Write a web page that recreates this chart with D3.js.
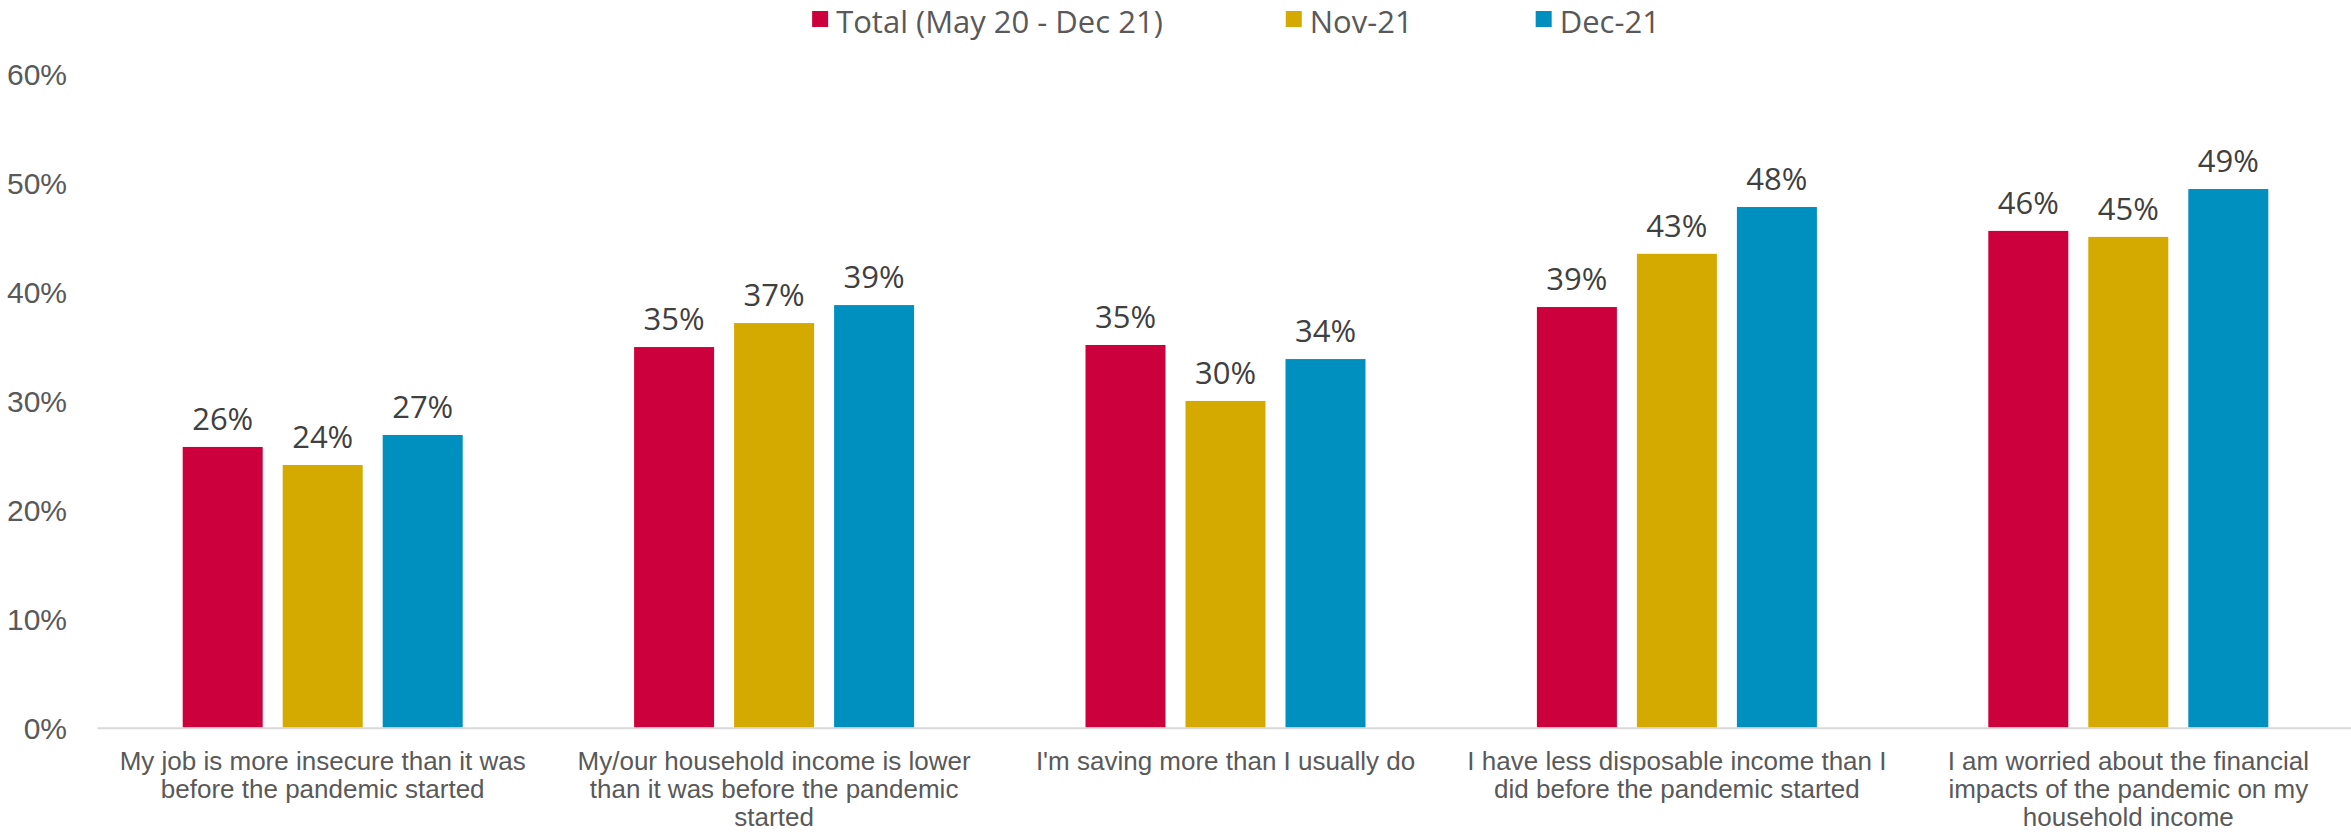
<!DOCTYPE html>
<html>
<head>
<meta charset="utf-8">
<script src="https://cdn.jsdelivr.net/npm/d3@7"></script>
<style>
  html, body { margin: 0; padding: 0; background: #fff; }
  svg { display: block; font-family: "Century Gothic", "Open Sans", sans-serif; }
</style>
</head>
<body>
<div id="chart"></div>
<script>
// Financial attitudes by period - grouped bars

const categories = [
  ['My job is more insecure than it was', 'before the pandemic started'],
  ['My/our household income is lower', 'than it was before the pandemic', 'started'],
  ["I'm saving more than I usually do"],
  ['I have less disposable income than I', 'did before the pandemic started'],
  ['I am worried about the financial', 'impacts of the pandemic on my', 'household income']
];
const seriesNames = ['Total (May 20 - Dec 21)', 'Nov-21', 'Dec-21'];
const totalValues = [0.2574, 0.3490, 0.3509, 0.3857, 0.4555];
const nov21Values = [0.2409, 0.3710, 0.2996, 0.4345, 0.4500];
const dec21Values = [0.2684, 0.3875, 0.3380, 0.4774, 0.4939];
const yTicks = [0, 0.1, 0.2, 0.3, 0.4, 0.5, 0.6];
const colors = ['#CC003D', '#D5AA00', '#0090C0'];

const seriesValues = [totalValues, nov21Values, dec21Values];
const W = 2351, H = 832;
const margin = { top: 73, right: 0, bottom: 104, left: 97 };
const baseY = 727.7;

const svg = d3.select('#chart').append('svg')
  .attr('width', W)
  .attr('height', H);

const catKeys = categories.map((c, i) => 'c' + i);

// scales
const x0 = d3.scaleBand()
  .domain(catKeys)
  .range([margin.left, 2354])
  .padding(0);

const x1 = d3.scaleBand()
  .domain(seriesNames)
  .range([0, x0.bandwidth()])
  .paddingInner(0.2)
  .paddingOuter(0.857);

const y = d3.scaleLinear()
  .domain([0, 0.6])
  .range([baseY, 73.3]);

// y axis (labels only)
const yAxis = svg.append('g')
  .attr('transform', `translate(${margin.left},0)`)
  .call(d3.axisLeft(y).tickValues(yTicks).tickSize(0).tickPadding(30).tickFormat(d3.format('.0%')));
yAxis.select('.domain').remove();
yAxis.selectAll('text')
  .attr('font-family', null)
  .attr('dy', '0.36em')
  .style('font-size', '30px')
  .style('fill', '#595959');

// bars
const rows = catKeys.map((k, i) => ({ key: k, vals: seriesNames.map((s, j) => ({ s, j, v: seriesValues[j][i] })) }));

const groups = svg.selectAll('.grp')
  .data(rows)
  .enter()
  .append('g')
  .attr('class', 'grp')
  .attr('transform', d => `translate(${x0(d.key)},0)`);

groups.selectAll('rect')
  .data(d => d.vals)
  .enter()
  .append('rect')
  .attr('x', d => x1(d.s))
  .attr('y', d => y(d.v))
  .attr('width', x1.bandwidth())
  .attr('height', d => baseY - y(d.v))
  .attr('fill', d => colors[d.j]);

groups.selectAll('text.val')
  .data(d => d.vals)
  .enter()
  .append('text')
  .attr('class', 'val')
  .attr('x', d => x1(d.s) + x1.bandwidth() / 2)
  .attr('y', d => y(d.v) - 17)
  .attr('text-anchor', 'middle')
  .style('font-size', '31px')
  .style('fill', '#404040')
  .text(d => d3.format('.0%')(d.v));

// x axis
const xAxis = svg.append('g')
  .attr('transform', `translate(0,${baseY})`)
  .call(d3.axisBottom(x0).tickSize(0).tickFormat(''));
xAxis.select('.domain')
  .attr('stroke', '#D9D9D9')
  .attr('stroke-width', 2);

xAxis.selectAll('.tick').each(function (d, i) {
  const t = d3.select(this).select('text')
    .attr('y', 0)
    .attr('dy', null)
    .attr('text-anchor', 'middle')
    .style('font-size', '26px')
    .style('fill', '#595959');
  categories[i].forEach((line, k) => {
    t.append('tspan')
      .attr('x', 0)
      .attr('y', 42 + k * 28)
      .text(line);
  });
});

// legend
const legend = svg.append('g').attr('class', 'legend');
const items = legend.selectAll('g')
  .data(seriesNames)
  .enter()
  .append('g');
items.append('rect')
  .attr('width', 16)
  .attr('height', 16)
  .attr('y', 11)
  .attr('fill', (d, i) => colors[i]);
items.append('text')
  .attr('x', 24)
  .attr('y', 22)
  .attr('dy', '0.36em')
  .style('font-size', '31px')
  .style('fill', '#595959')
  .text(d => d);

let cx = 0;
items.each(function () {
  const g = d3.select(this);
  g.attr('transform', `translate(${cx},0)`);
  cx += 24 + g.select('text').node().getComputedTextLength() + 123;
});
const legendW = cx - 123;
legend.attr('transform', `translate(${1236 - legendW / 2},0)`);
</script>
</body>
</html>
